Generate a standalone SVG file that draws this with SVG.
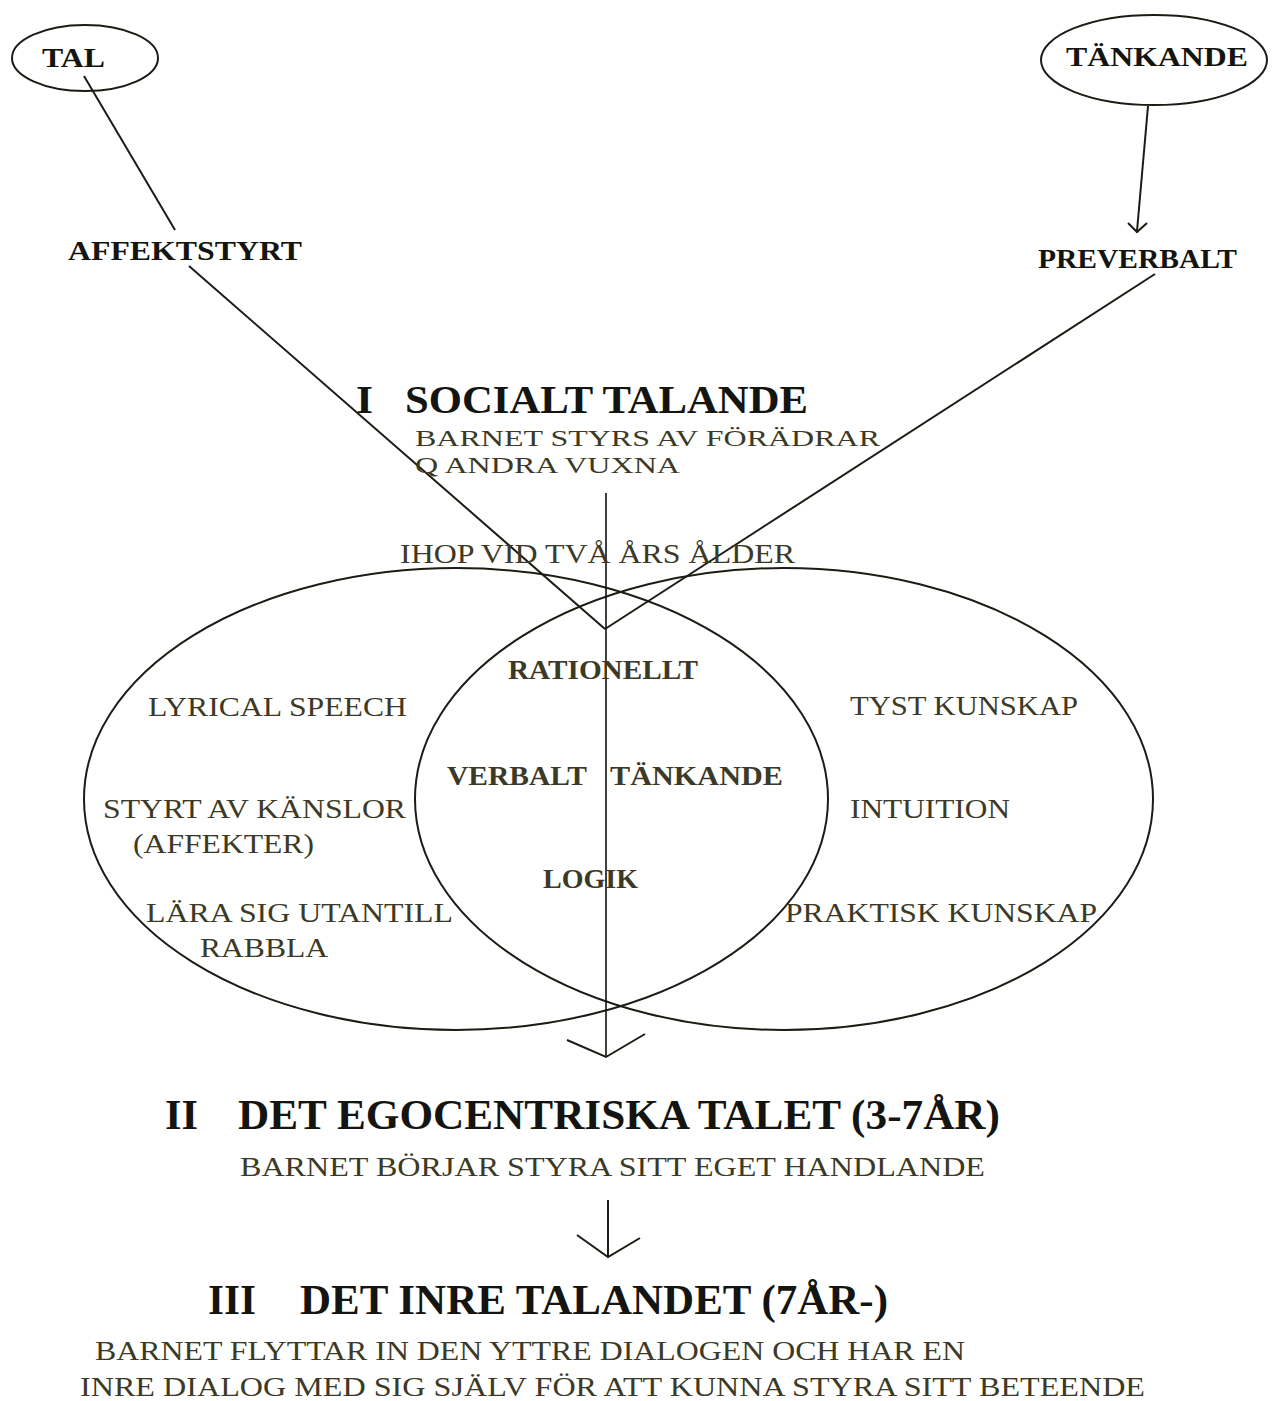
<svg xmlns="http://www.w3.org/2000/svg" width="1279" height="1401" viewBox="0 0 1279 1401">
<style>
text{font-family:"Liberation Serif","Times New Roman",serif;}
.b{font-weight:bold;fill:#141410;}
.r{fill:#3c3a26;}
.shape{fill:none;stroke:#1c1c14;stroke-width:2;}
.ln{fill:none;stroke:#1c1c14;stroke-width:2;}
.thin{fill:none;stroke:#111;stroke-width:1.6;}
</style>
<rect width="1279" height="1401" fill="#ffffff"/>
<g id="venn-left"><ellipse class="shape" cx="456" cy="799" rx="372" ry="231"/></g>
<g id="venn-right"><ellipse class="shape" cx="784" cy="799" rx="369" ry="231"/></g>
<g id="connectors">
<line class="ln" x1="84" y1="76" x2="175" y2="230"/>
<line class="ln" x1="189" y1="266" x2="605" y2="629"/>
<line class="ln" x1="1148" y1="106" x2="1137" y2="231"/>
<polyline class="ln" points="1128,223 1137,232 1147,223"/>
<line class="ln" x1="1155" y1="274" x2="605" y2="629"/>
<line class="thin" x1="606" y1="493" x2="606" y2="1056"/>
<polyline class="ln" points="567,1040 606,1057 645,1034"/>
<line class="ln" x1="608" y1="1200" x2="608" y2="1257"/>
<polyline class="ln" points="577,1235 608,1257 640,1238"/>
</g>
<g id="node-tal">
<ellipse class="shape" cx="85" cy="58" rx="73" ry="33"/>
<text class="b" x="42" y="67" font-size="28" textLength="63" lengthAdjust="spacingAndGlyphs">TAL</text>
</g>
<g id="node-tankande">
<ellipse class="shape" cx="1154" cy="60" rx="113" ry="45"/>
<text class="b" x="1066" y="66" font-size="28" textLength="182" lengthAdjust="spacingAndGlyphs">TÄNKANDE</text>
</g>
<g id="node-affektstyrt">
<text class="b" x="68" y="260" font-size="28" textLength="234" lengthAdjust="spacingAndGlyphs">AFFEKTSTYRT</text>
</g>
<g id="node-preverbalt">
<text class="b" x="1038" y="268" font-size="28" textLength="199" lengthAdjust="spacingAndGlyphs">PREVERBALT</text>
</g>
<g id="node-stage1">
<text class="b" x="356" y="413" font-size="41" textLength="17" lengthAdjust="spacingAndGlyphs">I</text>
<text class="b" x="405" y="413" font-size="41" textLength="403" lengthAdjust="spacingAndGlyphs">SOCIALT TALANDE</text>
<text class="r" x="415" y="446" font-size="24" textLength="465" lengthAdjust="spacingAndGlyphs">BARNET STYRS AV FÖRÄDRAR</text>
<text class="r" x="415" y="473" font-size="24" textLength="265" lengthAdjust="spacingAndGlyphs">Q ANDRA VUXNA</text>
<text class="r" x="400" y="563" font-size="27" textLength="395" lengthAdjust="spacingAndGlyphs">IHOP VID TVÅ ÅRS ÅLDER</text>
</g>
<g id="node-left-set">
<text class="r" x="148" y="716" font-size="27" textLength="259" lengthAdjust="spacingAndGlyphs">LYRICAL SPEECH</text>
<text class="r" x="103" y="818" font-size="27" textLength="303" lengthAdjust="spacingAndGlyphs">STYRT AV KÄNSLOR</text>
<text class="r" x="133" y="853" font-size="27" textLength="181" lengthAdjust="spacingAndGlyphs">(AFFEKTER)</text>
<text class="r" x="146" y="922" font-size="27" textLength="307" lengthAdjust="spacingAndGlyphs">LÄRA SIG UTANTILL</text>
<text class="r" x="200" y="957" font-size="27" textLength="128" lengthAdjust="spacingAndGlyphs">RABBLA</text>
</g>
<g id="node-overlap">
<text class="r" x="508" y="679" font-size="27" textLength="190" lengthAdjust="spacingAndGlyphs" font-weight="bold">RATIONELLT</text>
<text class="r" x="447" y="785" font-size="27" textLength="140" lengthAdjust="spacingAndGlyphs" font-weight="bold">VERBALT</text>
<text class="r" x="610" y="785" font-size="27" textLength="173" lengthAdjust="spacingAndGlyphs" font-weight="bold">TÄNKANDE</text>
<text class="r" x="543" y="888" font-size="27" textLength="95" lengthAdjust="spacingAndGlyphs" font-weight="bold">LOGIK</text>
</g>
<g id="node-right-set">
<text class="r" x="850" y="715" font-size="27" textLength="228" lengthAdjust="spacingAndGlyphs">TYST KUNSKAP</text>
<text class="r" x="850" y="818" font-size="27" textLength="160" lengthAdjust="spacingAndGlyphs">INTUITION</text>
<text class="r" x="785" y="922" font-size="27" textLength="312" lengthAdjust="spacingAndGlyphs">PRAKTISK KUNSKAP</text>
</g>
<g id="node-stage2">
<text class="b" x="165" y="1129" font-size="42" textLength="33" lengthAdjust="spacingAndGlyphs">II</text>
<text class="b" x="238" y="1129" font-size="42" textLength="762" lengthAdjust="spacingAndGlyphs">DET EGOCENTRISKA TALET (3-7ÅR)</text>
<text class="r" x="240" y="1176" font-size="27" textLength="745" lengthAdjust="spacingAndGlyphs">BARNET BÖRJAR STYRA SITT EGET HANDLANDE</text>
</g>
<g id="node-stage3">
<text class="b" x="208" y="1314" font-size="42" textLength="48" lengthAdjust="spacingAndGlyphs">III</text>
<text class="b" x="300" y="1314" font-size="42" textLength="588" lengthAdjust="spacingAndGlyphs">DET INRE TALANDET (7ÅR-)</text>
<text class="r" x="95" y="1360" font-size="27" textLength="870" lengthAdjust="spacingAndGlyphs">BARNET FLYTTAR IN DEN YTTRE DIALOGEN OCH HAR EN</text>
<text class="r" x="80" y="1396" font-size="27" textLength="1065" lengthAdjust="spacingAndGlyphs">INRE DIALOG MED SIG SJÄLV FÖR ATT KUNNA STYRA SITT BETEENDE</text>
</g>
</svg>
